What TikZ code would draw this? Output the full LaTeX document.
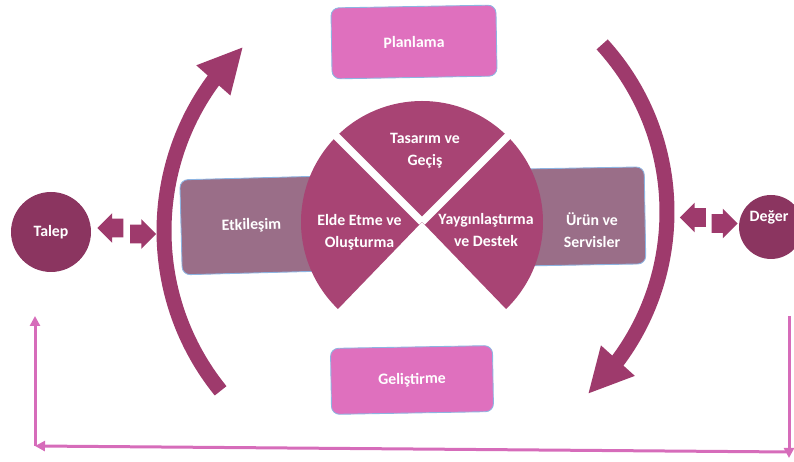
\documentclass[tikz,border=0pt]{standalone}
\usepackage{fontspec}
\setmainfont{Carlito}
\usetikzlibrary{arrows.meta,bending,shapes.arrows}
\definecolor{circplum}{HTML}{8B3560}
\definecolor{arcplum}{HTML}{9E3A6C}
\definecolor{wedgeplum}{HTML}{A84474}
\definecolor{boxmauve}{HTML}{9A6E88}
\definecolor{boxpink}{HTML}{DF70BE}
\definecolor{edgeblue}{HTML}{8DB4E2}
\definecolor{loopPink}{HTML}{D66CBA}

\begin{document}
\begin{tikzpicture}[x=0.02cm, y=0.02cm,
	txt/.style = {text=white, font=\bfseries\fontsize{9}{12.5}\selectfont, align=center},
	pinkbox/.style = {txt, fill=boxpink, draw=edgeblue, line width=0.5pt, rounded corners=0.16cm, inner sep=0},
	mauvebox/.style = {txt, fill=boxmauve, draw=edgeblue, line width=0.5pt, rounded corners=0.16cm, inner sep=0},
	endcirc/.style = {txt, circle, fill=circplum, inner sep=0},
	blockarrow/.style = {single arrow, fill=arcplum, inner xsep=0, inner ysep=0.18cm, minimum height=0.52cm, single arrow head extend=0.11cm},
	bigarc/.style = {arcplum, line width=0.3cm, -{Triangle[width=0.84cm, length=0.9cm]}},
	loopline/.style = {loopPink, line width=0.06cm, -{Triangle[width=0.2cm, length=0.2cm]}}]
	\useasboundingbox (0,0) rectangle (794,462);

	% feedback loop along the bottom
	\coordinate (rtop) at (789,146);
	\coordinate (rbot) at (789,4);
	\coordinate (bright) at (790,10);
	\coordinate (bleft) at (35,16);
	\coordinate (ltop) at (35,146);
	\draw[loopline] (rtop) -- (rbot);
	\draw[loopline] (bright) -- (bleft);
	\draw[loopline] (bleft) -- (ltop);

	% big cycle arrows
	\draw[bigarc] ([shift={(219:254)}]418,231) arc[start angle=219, end angle=133.5, radius=254];
	\draw[bigarc] ([shift={(42.3:249)}]418,250) arc[start angle=42.3, end angle=-47, radius=249];

	% side boxes (behind the wedges)
	\node[mauvebox, minimum width=2.82cm, minimum height=1.9cm, rotate=1.5] (etk) at (251.5,236.5) {Etkile\c{s}im};
	\node[mauvebox, minimum width=2.6cm, minimum height=1.94cm, rotate=1] (urun) at (580,245.5) {};
	\node[txt] (urunText) at (592,232) {\"Ur\"un ve\\Servisler};

	% wedges
	\coordinate (hub) at (422,240);
	\fill[wedgeplum] (hub) -- +(45:121) arc[start angle=45, end angle=135, radius=121] -- cycle;
	\fill[wedgeplum] (hub) -- +(135:121) arc[start angle=135, end angle=226, radius=121] -- cycle;
	\fill[wedgeplum] (hub) -- +(-46:121) arc[start angle=-46, end angle=45, radius=121] -- cycle;
	\draw[white, line width=0.15cm] (hub) -- +(45:126) (hub) -- +(135:126);
	\node[txt] (tasarim) at (425,311) {Tasar\i m ve\\Ge\c{c}i\c{s}};
	\node[txt] (elde) at (359.5,229.5) {Elde Etme ve\\Olu\c{s}turma};
	\node[txt] (yaygin) at (486,232) {Yayg\i nla\c{s}t\i rma\\ve Destek};

	% top and bottom boxes
	\node[pinkbox, minimum width=3.3cm, minimum height=1.42cm, rotate=1] (plan) at (414,420) {Planlama};
	\node[pinkbox, minimum width=3.24cm, minimum height=1.32cm, rotate=1] (gelis) at (412,82) {Geli\c{s}tirme};

	% demand and value
	\node[endcirc, minimum size=1.6cm] (talep) at (51,230) {Talep};
	\node[endcirc, minimum size=1.28cm] (deger) at (771,235) {};
	\node[txt] (degerText) at (769,245) {De\u{g}er};

	% two-way arrows
	\node[blockarrow, shape border rotate=180] (tIn) at (115,234) {};
	\node[blockarrow] (tOut) at (138.5,228) {};
	\node[blockarrow, shape border rotate=180] (dIn) at (697.5,244.5) {};
	\node[blockarrow] (dOut) at (720,238.5) {};
\end{tikzpicture}
\end{document}
